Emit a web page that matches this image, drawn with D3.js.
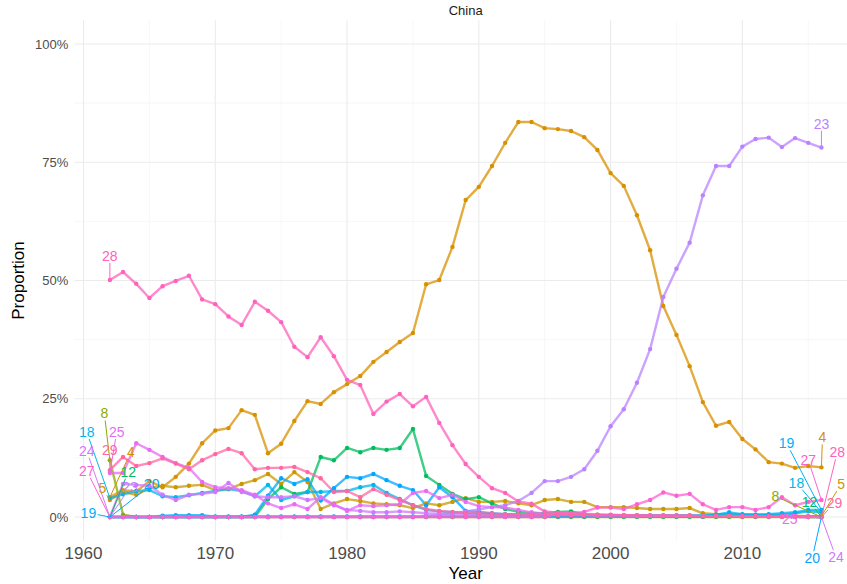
<!DOCTYPE html>
<html lang="en">
<head>
<meta charset="UTF-8">
<script src="https://d3js.org/d3.v7.min.js"></script>
<style>
    body { margin: 0; background: #fff; }
    svg { font-family: "Liberation Sans", Arial, Helvetica, sans-serif; }
    .grid-major line { stroke: #ebebeb; stroke-width: 1.1px; }
    .grid-minor line { stroke: #f2f2f2; stroke-width: 0.6px; }
    .tick-y { font-size: 13px; fill: #4d4d4d; text-anchor: end; }
    .tick-x { font-size: 17px; fill: #4d4d4d; text-anchor: middle; }
    .axis-title { font-size: 17px; fill: #000; text-anchor: middle; }
    .strip { font-size: 13px; fill: #1a1a1a; text-anchor: middle; }
    .topic-label { font-size: 14px; text-anchor: middle; }
</style>
<title>China</title>
</head>
<body>
<svg id="chart" width="847" height="584"></svg>
<script>
// ---- data (percent of documents per topic, China) ----
const years = [1962,1963,1964,1965,1966,1967,1968,1969,1970,1971,
               1972,1973,1974,1975,1976,1977,1978,1979,1980,1981,
               1982,1983,1984,1985,1986,1987,1988,1989,1990,1991,
               1992,1993,1994,1995,1996,1997,1998,1999,2000,2001,
               2002,2003,2004,2005,2006,2007,2008,2009,2010,2011,
               2012,2013,2014,2015,2016];
const topics = [4, 5, 8, 12, 18, 19, 20, 23, 24, 25, 27, 28, 29];

const s4  = [4.2,5.7,5.4,7.6,6.3,8.5,11.3,15.6,18.3,18.8, 22.6,21.6,13.5,15.5,20.3,24.5,23.9,26.4,28.1,29.8,
             32.8,34.9,37.0,38.9,49.2,50.1,57.1,67.0,69.8,74.2, 79.1,83.5,83.5,82.2,82.0,81.6,80.3,77.6,72.7,70.0,
             63.8,56.4,44.6,38.5,31.9,24.3,19.3,20.1,16.5,14.3, 11.6,11.3,10.4,10.8,10.5];
const s5  = [3.6,5.3,4.7,6.1,6.6,6.3,6.6,6.8,5.7,5.9, 7.0,7.8,9.1,7.0,9.5,7.4,1.7,2.9,3.8,3.4,
             2.9,2.7,2.5,1.9,2.9,2.5,3.2,4.0,3.2,3.2, 3.4,2.9,2.5,3.6,3.8,3.2,3.2,2.1,2.1,2.1,
             1.9,1.7,1.7,1.7,1.9,0.8,0.6,0.5,0.5,0.4, 0.4,0.3,0.3,0.2,0.2];
const s8  = [12.0,0.5,0,0,0,0,0,0,0,0, 0,0,0,0,0,0,0,0,0,0,
             0,0,0,0,0,0,0,0,0,0, 0,0,0,0,0,0,0,0,0,0,
             0,0,0,0,0,0,0,0,0,0, 0,0,0,0,0];
const s12 = [0,0,0,0,0,0,0,0,0,0, 0,0,3.8,6.3,4.9,5.3,12.7,12.0,14.6,13.7,
             14.6,14.2,14.6,18.6,8.7,6.8,4.9,3.8,4.2,2.9, 1.7,1.1,0.8,0.8,1.1,1.2,0.6,0.5,0.4,0.3,
             0.3,0.2,0.2,0.2,0.2,0.1,0.1,0.1,0.1,0.1, 0.1,0.1,0.1,0,0];
const s18 = [4.0,4.8,5.5,5.7,4.4,4.2,4.6,5.1,5.5,5.9, 5.5,4.4,6.8,3.6,4.4,5.3,5.3,5.5,5.5,6.3,
             6.8,5.1,3.8,2.5,1.5,1.2,1.0,0.8,0.7,0.6, 0.5,0.5,0.4,0.4,0.4,0.4,0.4,0.4,0.4,0.4,
             0.4,0.4,0.4,0.4,0.4,0.4,0.5,0.6,0.5,0.5, 0.5,0.5,0.8,1.2,1.0];
const s19 = [0,0,0,0,0.3,0.4,0.4,0.4,0.1,0.1, 0.1,0.1,0.1,0.1,0.1,0.1,0.1,0.1,0.1,0.1,
             0.1,0.1,0.1,0.1,0.1,0.1,0.1,0.1,0.1,0.1, 0.1,0.1,0.1,0.1,0.1,0.1,0.1,0.1,0.1,0.1,
             0.1,0.1,0.1,0.1,0.1,0.1,0.5,1.0,0.6,0.5, 0.6,0.8,1.0,1.5,1.5];
const s20 = [0,0,0,0,0,0,0,0,0,0, 0,0.5,4.5,8.2,7.0,8.0,3.5,6.1,8.5,8.2,
             9.1,7.8,6.6,5.7,2.5,6.3,4.2,1.3,1.1,0.8, 0.6,0.5,0.4,0.4,0.3,0.3,0.3,0.3,0.3,0.3,
             0.2,0.2,0.2,0.2,0.2,0.2,0.2,0.2,0.2,0.2, 0.2,0.2,0.1,0.1,0];
const s23 = [0,0,0,0,0,0,0,0,0,0, 0,0,0,0,0,0,0,0,0,0,
             0,0,0,0,0.3,0.5,0.8,1.2,1.6,2.1, 2.5,3.4,5.1,7.6,7.6,8.5,10.1,14.0,19.2,22.8,
             28.4,35.5,46.5,52.5,58.0,68.0,74.2,74.2,78.3,79.9, 80.2,78.2,80.1,79.1,78.1];
const s24 = [0,7.0,6.8,6.6,4.7,3.6,4.7,4.9,5.3,7.2, 5.3,4.4,4.2,4.2,4.4,3.6,4.0,2.5,1.5,1.3,
             1.0,1.0,1.2,1.0,0.8,0.7,0.6,0.5,0.5,0.4, 0.4,0.4,0.4,0.4,0.4,0.4,0.4,0.4,0.4,0.4,
             0.3,0.3,0.3,0.3,0.3,0.2,0.2,0.2,0.2,0.2, 0.1,0.1,0.1,0,0];
const s25 = [9.3,9.3,15.6,14.2,12.7,11.4,10.4,7.4,6.3,6.1, 5.7,4.7,2.9,1.9,2.7,1.7,4.2,2.7,1.3,2.5,
             2.3,2.5,2.7,5.1,5.5,4.0,4.7,3.2,2.3,2.1, 2.0,1.5,1.0,0.7,0.5,0.4,0.4,0.3,0.3,0.3,
             0.2,0.2,0.2,0.2,0.2,0.2,0.2,0.2,0.2,0.2, 0.1,0.1,0.1,0.1,0];
const s27 = [0,0,0,0,0,0,0,0,0,0, 0,0,0,0,0,0,0,0,0,0,
             0,0,0,0,0,0,0,0,0,0, 0,0,0,0,0.8,0.8,1.1,2.0,2.0,1.7,
             2.7,3.6,5.2,4.5,4.9,2.7,1.5,2.1,2.1,1.5, 2.1,4.2,2.5,3.2,3.6];
const s28 = [50.1,51.8,49.3,46.3,48.8,49.9,51.0,46.0,45.0,42.4, 40.6,45.5,43.6,41.2,36.0,33.8,38.0,34.0,29.0,27.9,
             21.8,24.4,26.0,23.4,25.4,19.9,15.2,11.2,8.5,6.1, 5.1,3.3,2.8,1.2,0.9,0.7,0.6,0.5,0.5,0.4,
             0.4,0.3,0.3,0.3,0.2,0.2,0.2,0.2,0.1,0.1, 0.1,0.1,0.1,0.1,0];
const s29 = [9.9,12.7,10.8,11.4,12.4,11.3,10.1,12.0,13.3,14.4, 13.5,10.1,10.4,10.4,10.6,9.5,8.2,5.3,5.5,4.2,
             5.9,4.7,3.6,2.5,1.7,1.3,1.1,0.9,0.8,0.7, 0.6,0.6,0.5,0.5,0.5,0.4,0.4,0.4,0.4,0.4,
             0.3,0.3,0.3,0.3,0.3,0.2,0.2,0.2,0.2,0.2, 0.2,0.1,0.1,0.1,0];

const seriesValues = [s4, s5, s8, s12, s18, s19, s20, s23, s24, s25, s27, s28, s29];

// repelled label spots, [topic, year, percent] - first year end and last year end
const startLabels = [[18,1960.24,18.0],[8,1961.58,21.9],[25,1962.52,18.0],[24,1960.24,14.0],
                     [29,1962.0,14.2],[4,1963.6,13.8],[27,1960.24,9.8],[12,1963.4,9.6],
                     [5,1961.43,6.1],[23,1963.53,6.3],[20,1965.17,6.9],[19,1960.37,0.9],[28,1962.0,55.2]];
const endLabels   = [[23,2016.0,83.1],[19,2013.35,15.6],[4,2016.08,16.85],[27,2015.0,12.05],
                     [28,2017.2,13.7],[18,2014.1,7.25],[8,2012.5,4.4],[12,2015.1,3.2],
                     [5,2017.5,7.0],[29,2017.0,3.0],[25,2013.6,-0.3],[20,2015.3,-8.7],[24,2017.1,-8.5]];

const xBreaks = [1960, 1970, 1980, 1990, 2000, 2010];
const xMinor  = [1965, 1975, 1985, 1995, 2005, 2015];
const yBreaks = [0, 0.25, 0.5, 0.75, 1];
const yMinor  = [0.125, 0.375, 0.625, 0.875];

// ---- ggplot-like hue palette (polar Luv, c=100, l=65), 30 topics ----
function hclLuv(h, c, l) {
    const hr = h * Math.PI / 180;
    const U = c * Math.cos(hr), V = c * Math.sin(hr);
    const Xn = 95.047, Yn = 100, Zn = 108.883;
    const den = Xn + 15 * Yn + 3 * Zn;
    const un = 4 * Xn / den, vn = 9 * Yn / den;
    const Y = Yn * Math.pow((l + 16) / 116, 3);
    const u = U / (13 * l) + un, v = V / (13 * l) + vn;
    const X = Y * 9 * u / (4 * v);
    const Z = Y * (12 - 3 * u - 20 * v) / (4 * v);
    const x = X / 100, y = Y / 100, z = Z / 100;
    const lin = [3.240479 * x - 1.537150 * y - 0.498535 * z,
                -0.969256 * x + 1.875992 * y + 0.041556 * z,
                 0.055648 * x - 0.204043 * y + 1.057311 * z];
    const g = lin.map(t => {
        const s = t <= 0.0031308 ? 12.92 * t : 1.055 * Math.pow(t, 1 / 2.4) - 0.055;
        return Math.round(255 * Math.max(0, Math.min(1, s)));
    });
    return d3.rgb(g[0], g[1], g[2]).formatHex();
}
const nTopics = 30;
const topicColor = k => hclLuv(15 + 360 * (k - 1) / nTopics, 100, 65);

// ---- layout ----
const svg = d3.select("#chart");
const W = +svg.attr("width"), H = +svg.attr("height");
svg.append("rect").attr("width", W).attr("height", H).attr("fill", "#fff");

const yearExt = d3.extent(years);
const xPad = (yearExt[1] - yearExt[0]) * 0.05;
const panel = { left: 74.3, right: 857, top: 20.3, bottom: 540.7 };
const x = d3.scaleLinear().domain([yearExt[0] - xPad, yearExt[1] + xPad]).range([panel.left, panel.right]);
const y = d3.scaleLinear().domain([-0.05, 1.05]).range([panel.bottom, panel.top]);

// grid
const gMinor = svg.append("g").attr("class", "grid-minor");
gMinor.selectAll(".vx").data(xMinor).join("line")
    .attr("x1", d => x(d)).attr("x2", d => x(d)).attr("y1", panel.top).attr("y2", panel.bottom);
gMinor.selectAll(".hy").data(yMinor).join("line")
    .attr("x1", panel.left).attr("x2", panel.right).attr("y1", d => y(d)).attr("y2", d => y(d));
const gMajor = svg.append("g").attr("class", "grid-major");
gMajor.selectAll(".vx").data(xBreaks).join("line")
    .attr("x1", d => x(d)).attr("x2", d => x(d)).attr("y1", panel.top).attr("y2", panel.bottom);
gMajor.selectAll(".hy").data(yBreaks).join("line")
    .attr("x1", panel.left).attr("x2", panel.right).attr("y1", d => y(d)).attr("y2", d => y(d));

// axes text
svg.selectAll(".tick-y").data(yBreaks).join("text")
    .attr("class", "tick-y")
    .attr("x", panel.left - 6)
    .attr("y", d => y(d) + 4.6)
    .text(d => d3.format(".0%")(d));
svg.selectAll(".tick-x").data(xBreaks).join("text")
    .attr("class", "tick-x")
    .attr("x", d => x(d))
    .attr("y", panel.bottom + 18)
    .text(d => d);
svg.append("text").attr("class", "axis-title")
    .attr("x", (panel.left + panel.right) / 2).attr("y", 579).text("Year");
svg.append("text").attr("class", "axis-title")
    .attr("transform", `translate(24,${(panel.top + panel.bottom) / 2}) rotate(-90)`)
    .text("Proportion");
svg.append("text").attr("class", "strip")
    .attr("x", (panel.left + panel.right) / 2).attr("y", 14.5).text("China");

// series
const series = topics.map((t, i) => ({
    topic: t,
    color: topicColor(t),
    points: years.map((yr, j) => ({ year: yr, share: seriesValues[i][j] / 100 }))
}));

const line = d3.line().x(d => x(d.year)).y(d => y(d.share));
svg.append("g").selectAll("path").data(series).join("path")
    .attr("d", d => line(d.points))
    .attr("fill", "none")
    .attr("stroke", d => d.color)
    .attr("stroke-width", 2.4)
    .attr("stroke-opacity", 0.75)
    .attr("stroke-linejoin", "round");

svg.append("g").selectAll("g").data(series).join("g")
    .attr("fill", d => d.color)
    .selectAll("circle").data(d => d.points).join("circle")
    .attr("cx", d => x(d.year)).attr("cy", d => y(d.share)).attr("r", 2.2);

// repelled labels with leader segments
const labelFont = 14;
function drawLabels(spots, pick) {
    const g = svg.append("g");
    spots.forEach(([topic, yr, pct]) => {
        const s = series.find(d => d.topic === topic);
        const p = pick(s.points);
        const lx = x(yr), ly = y(pct / 100);
        const px = x(p.year), py = y(p.share);
        const txt = String(topic);
        const hw = txt.length * 0.556 * labelFont / 2 + 1.5;
        const hh = labelFont * 0.72 / 2 + 2;
        const dx = px - lx, dy = py - ly;
        const t = Math.min(dx !== 0 ? hw / Math.abs(dx) : Infinity, dy !== 0 ? hh / Math.abs(dy) : Infinity);
        if (t < 1) {
            const sx = lx + dx * t, sy = ly + dy * t;
            if (Math.hypot(px - sx, py - sy) > 4) {
                g.append("line")
                    .attr("x1", sx).attr("y1", sy).attr("x2", px).attr("y2", py)
                    .attr("stroke", s.color).attr("stroke-width", 1);
            }
        }
        g.append("text").attr("class", "topic-label")
            .attr("x", lx).attr("y", ly + labelFont * 0.36)
            .attr("fill", s.color)
            .text(txt);
    });
}
drawLabels(startLabels, pts => pts[0]);
drawLabels(endLabels, pts => pts[pts.length - 1]);
</script>
</body>
</html>
